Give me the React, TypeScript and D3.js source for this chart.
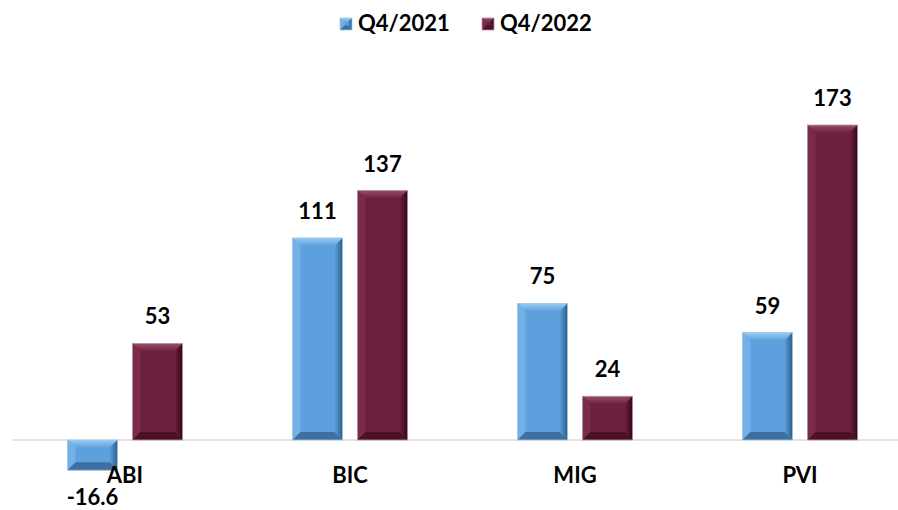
import React from "react";
import * as d3 from "d3";

const categories = ["ABI", "BIC", "MIG", "PVI"];
const seriesNames = ["Q4/2021", "Q4/2022"];
const q2021 = [-16.6, 111, 75, 59];
const q2022 = [53, 137, 24, 173];
const valueLabels2021 = ["-16.6", "111", "75", "59"];
const valueLabels2022 = ["53", "137", "24", "173"];

const W = 898;
const H = 510;
const colors = [
  { id: "b", base: "#5CA0DE", top: "#9ACBF2", left: "#74B0E6", right: "#2E5E8C", bottom: "#3D70A0", stroke: "#A9C8E4" },
  { id: "r", base: "#6D1F3F", top: "#9A4C6B", left: "#7B2A4A", right: "#33081A", bottom: "#4A1229", stroke: "#B89AA6" },
];

function BevelBar({ x, y, w, h, c }: { x: number; y: number; w: number; h: number; c: typeof colors[0] }) {
  const b = Math.min(8, h / 2.5, w / 2.5);
  const x1 = x + w, y1 = y + h;
  return (
    <g>
      <rect x={x} y={y} width={w} height={h} fill={c.base} />
      <polygon points={`${x},${y} ${x1},${y} ${x1 - b},${y + b} ${x + b},${y + b}`} fill={`url(#top-${c.id})`} />
      <polygon points={`${x},${y} ${x + b},${y + b} ${x + b},${y1 - b} ${x},${y1}`} fill={c.left} />
      <polygon points={`${x1},${y} ${x1},${y1} ${x1 - b},${y1 - b} ${x1 - b},${y + b}`} fill={`url(#right-${c.id})`} />
      <polygon points={`${x},${y1} ${x + b},${y1 - b} ${x1 - b},${y1 - b} ${x1},${y1}`} fill={c.bottom} />
      <rect x={x} y={y} width={w} height={h} fill="none" stroke={c.stroke} strokeWidth={0.8} />
    </g>
  );
}

export default function App() {
  const y = d3.scaleLinear().domain([0, 173]).range([440, 125]);
  const x0 = d3.scaleBand().domain(categories).range([12.5, 912.5]);
  const barW = 50;
  const gap = 15;
  const font = "Lato, 'Open Sans', sans-serif";
  const series = [q2021, q2022];
  const labels = [valueLabels2021, valueLabels2022];

  return (
    <svg width={W} height={H} style={{ position: "absolute", left: 0, top: 0, background: "#fff" }}>
      <defs>
        {colors.map((c) => (
          <React.Fragment key={c.id}>
            <linearGradient id={`top-${c.id}`} x1="0" y1="0" x2="0" y2="1">
              <stop offset="0" stopColor={c.top} />
              <stop offset="1" stopColor={c.base} />
            </linearGradient>
            <linearGradient id={`right-${c.id}`} x1="0" y1="0" x2="1" y2="0">
              <stop offset="0" stopColor={c.base} />
              <stop offset="1" stopColor={c.right} />
            </linearGradient>
          </React.Fragment>
        ))}
      </defs>
      <line x1={12} x2={898} y1={y(0)} y2={y(0)} stroke="#C8C8C8" strokeWidth={1} />
      {categories.map((cat, i) => {
        const cx = x0(cat)! + x0.bandwidth() / 2;
        return (
          <g key={cat}>
            {series.map((s, si) => {
              const v = s[i];
              const bx = si === 0 ? cx - gap / 2 - barW : cx + gap / 2;
              const top = Math.min(y(v), y(0));
              const hgt = Math.abs(y(v) - y(0));
              const lx = bx + barW / 2;
              const ly = v >= 0 ? y(v) - 19 : y(v) + 35;
              return (
                <g key={si}>
                  <BevelBar x={bx} y={top} w={barW} h={hgt} c={colors[si]} />
                  <text x={lx} y={ly} textAnchor="middle" fontFamily={font} fontWeight="bold" fontSize={22} fill="#000">
                    {labels[si][i]}
                  </text>
                </g>
              );
            })}
            <text x={cx} y={483} textAnchor="middle" fontFamily={font} fontWeight="bold" fontSize={22} fill="#000">
              {cat}
            </text>
          </g>
        );
      })}
      {seriesNames.map((n, i) => {
        const lx = i === 0 ? 340 : 482;
        return (
          <g key={n}>
            <BevelBar x={lx} y={18} w={12} h={12} c={colors[i]} />
            <text x={lx + 18} y={31} fontFamily={font} fontWeight="bold" fontSize={22} fill="#000">
              {n}
            </text>
          </g>
        );
      })}
    </svg>
  );
}
